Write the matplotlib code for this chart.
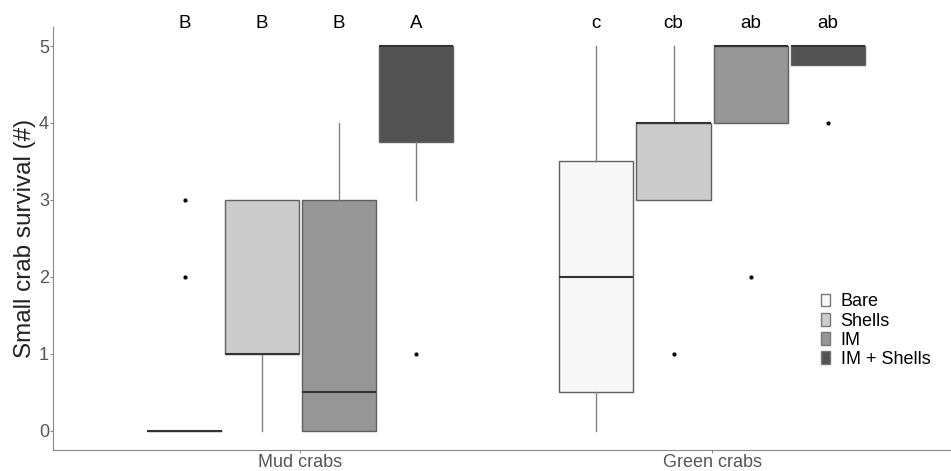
import matplotlib
matplotlib.use("Agg")
import matplotlib.pyplot as plt
from matplotlib.patches import Patch

plt.rcParams["font.family"] = ["Liberation Sans", "DejaVu Sans"]

groups = ["Mud crabs", "Green crabs"]
treatments = ["Bare", "Shells", "IM", "IM + Shells"]
colors = ["#f7f7f7", "#cccccc", "#969696", "#525252"]

# box stats per group, in treatment order
q1 = [[0, 1, 0, 3.75], [0.5, 3, 4, 4.75]]
med = [[0, 1, 0.5, 5], [2, 4, 5, 5]]
q3 = [[0, 3, 3, 5], [3.5, 4, 5, 5]]
whislo = [[0, 0, 0, 3], [0, 3, 4, 4.75]]
whishi = [[0, 3, 4, 5], [5, 5, 5, 5]]
fliers = [[[2, 3], [], [], [1]], [[], [1], [2], [4]]]
letters = [["B", "B", "B", "A"], ["c", "cb", "ab", "ab"]]

fig = plt.figure(figsize=(9.51, 4.71), dpi=100)
ax = fig.add_axes([0.056, 0.045, 0.944, 0.898])

step = 0.1875
for g in range(len(groups)):
    for t in range(len(treatments)):
        pos = g + 1 + (t - 1.5) * step
        st = dict(q1=q1[g][t], med=med[g][t], q3=q3[g][t],
                  whislo=whislo[g][t], whishi=whishi[g][t], fliers=fliers[g][t])
        ax.bxp([st], positions=[pos], widths=0.18, patch_artist=True, showcaps=False,
               boxprops=dict(facecolor=colors[t], edgecolor="#606060", linewidth=1.0),
               medianprops=dict(color="#333333", linewidth=1.5),
               whiskerprops=dict(color="#808080", linewidth=1.0),
               flierprops=dict(marker="o", markersize=2, markerfacecolor="black",
                               markeredgecolor="black"))
        ax.text(pos, 5.29, letters[g][t], ha="center", va="center", fontsize=13.5,
                clip_on=False)

ax.set_xlim(0.4, 2.58)
ax.set_ylim(-0.25, 5.25)
ax.set_xticks([1, 2])
ax.set_xticklabels(groups)
ax.set_yticks([0, 1, 2, 3, 4, 5])
ax.tick_params(colors="#888888", labelcolor="#555555", labelsize=13, length=2, pad=1)
ax.set_ylabel("Small crab survival (#)", fontsize=17.5, color="#222222", labelpad=2)
for s in ["top", "right"]:
    ax.spines[s].set_visible(False)
for s in ["left", "bottom"]:
    ax.spines[s].set_color("#888888")

handles = [Patch(facecolor=c, edgecolor="#777777", label=l) for c, l in zip(colors, treatments)]
ax.legend(handles=handles, loc="lower right", bbox_to_anchor=(0.995, 0.155), frameon=False,
          fontsize=13, handlelength=0.5, handleheight=0.7, handletextpad=0.6, labelspacing=0.12)

plt.savefig("out.png")
